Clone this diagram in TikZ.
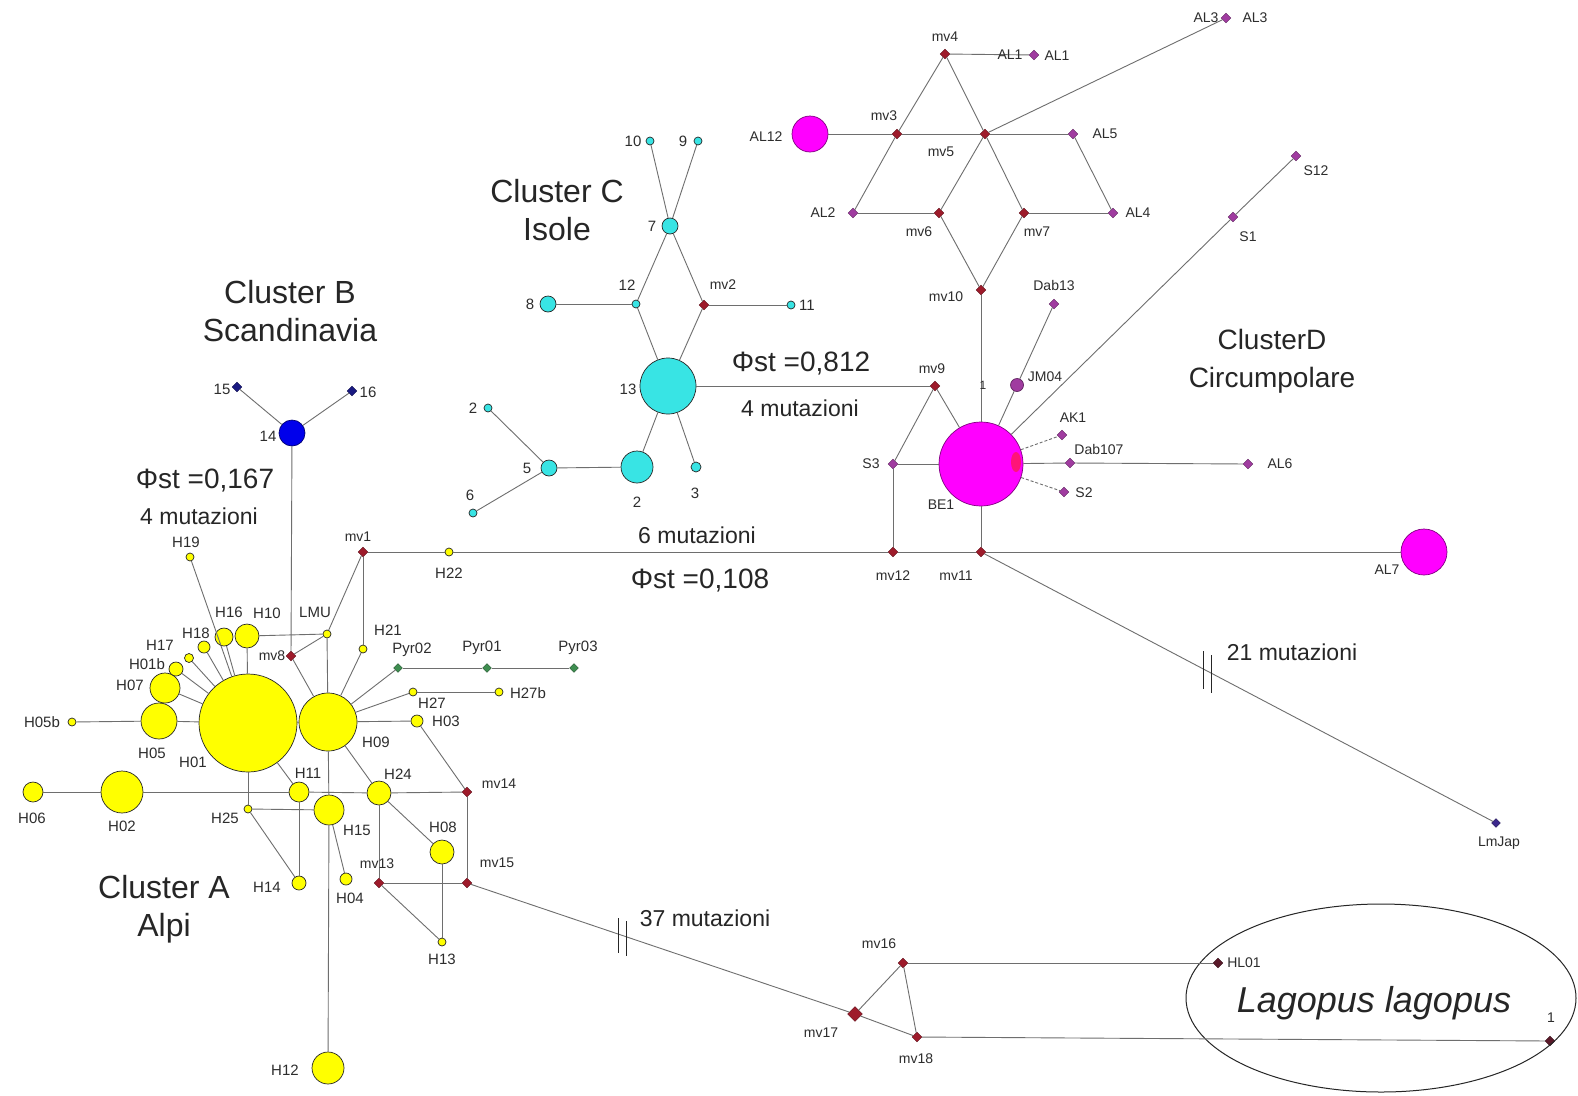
\documentclass[tikz,border=0pt]{standalone}
\usepackage{fontspec}
\setmainfont{Liberation Sans}
\usetikzlibrary{shapes.geometric,calc}
\newcommand{\fsz}[1]{\fontsize{#1}{#1}\selectfont}
\definecolor{hyel}{RGB}{255,255,0}
\definecolor{hcyan}{RGB}{56,228,228}
\definecolor{hmag}{RGB}{255,0,255}
\definecolor{hpink}{RGB}{255,20,120}
\definecolor{hpur}{RGB}{160,60,160}
\definecolor{mvred}{RGB}{158,27,43}
\definecolor{hblue}{RGB}{0,0,235}
\definecolor{hnavy}{RGB}{26,26,130}
\definecolor{hgreen}{RGB}{62,142,80}
\definecolor{hjap}{RGB}{60,40,140}
\definecolor{hbrown}{RGB}{90,26,42}
\definecolor{edgegray}{RGB}{110,110,110}
\definecolor{txt}{RGB}{45,45,45}
\tikzset{
  hap/.style={circle, inner sep=0pt, line width=0.7pt, draw=black!85},
  ynode/.style={hap, fill=hyel, minimum size=#1},
  cnode/.style={hap, fill=hcyan, minimum size=#1},
  mnode/.style={hap, fill=hmag, draw=hmag!50!black, minimum size=#1},
  dia/.style={diamond, inner sep=0pt, minimum size=10pt, line width=0.4pt},
  mvn/.style={dia, fill=mvred, draw=mvred!60!black},
  pnode/.style={dia, fill=hpur, draw=hpur!60!black},
  gnode/.style={dia, fill=hgreen, draw=hgreen!60!black, minimum size=9pt},
  nnode/.style={dia, fill=hnavy, draw=hnavy!60!black},
  bnode/.style={dia, fill=hbrown, draw=hbrown!60!black},
  edge/.style={draw=edgegray, line width=0.9pt},
  brk/.style={draw=black!85, line width=1.3pt},
  lbl/.style={font=\fsz{15}, text=txt, inner sep=0pt},
  lbd/.style={font=\fsz{14}, text=txt, inner sep=0pt},
  big/.style={font=\fontsize{32}{38}\selectfont, text=black!85, align=center, inner sep=0pt},
  phi/.style={font=\fsz{28}, text=black!85, inner sep=0pt},
  mut/.style={font=\fsz{23}, text=black!85, inner sep=0pt}
}
\begin{document}
\begin{tikzpicture}[x=1pt,y=-1pt]
\useasboundingbox (0,0) rectangle (1578,1095);
\fill[white] (0,0) rectangle (1578,1095);

% ---------- Cluster A ----------
\node[ynode=98] (H01) at (248,723) {};
\node[ynode=58] (H09) at (328,722) {};
\node[ynode=36] (H05) at (159,721) {};
\node[ynode=30] (H07) at (165,688) {};
\node[ynode=14] (H01b) at (176,669) {};
\node[ynode=9] (H17) at (189,658) {};
\node[ynode=12] (H18) at (204,647) {};
\node[ynode=18] (H16) at (224,637) {};
\node[ynode=24] (H10) at (247,636) {};
\node[ynode=8] (H19) at (190,557) {};
\node[ynode=8] (H05b) at (72,722) {};
\node[ynode=20] (H06) at (33,792) {};
\node[ynode=42] (H02) at (122,792) {};
\node[ynode=20] (H11) at (299,792) {};
\node[ynode=30] (H15) at (329,810) {};
\node[ynode=24] (H24) at (379,793) {};
\node[ynode=8] (H25) at (248,809) {};
\node[ynode=14] (H14) at (299,883) {};
\node[ynode=12] (H04) at (346,879) {};
\node[ynode=24] (H08) at (442,852) {};
\node[ynode=8] (H13) at (442,942) {};
\node[ynode=32] (H12) at (328,1068) {};
\node[ynode=12] (H03) at (417,721) {};
\node[ynode=8] (H27) at (413,692) {};
\node[ynode=8] (H27b) at (499,692) {};
\node[ynode=8] (H21) at (363,649) {};
\node[ynode=8] (H22) at (449,552) {};
\node[ynode=8] (LMU) at (327,634) {};
\node[gnode] (Pyr02) at (398,668) {};
\node[gnode] (Pyr01) at (487,668) {};
\node[gnode] (Pyr03) at (574,668) {};
\node[mvn] (mv1) at (363,552) {};
\node[mvn] (mv8) at (291,656) {};
\node[mvn] (mv13) at (379,883) {};
\node[mvn] (mv14) at (467,792) {};
\node[mvn] (mv15) at (467,883) {};

% ---------- Cluster B ----------
\node[hap, fill=hblue, draw=hblue!50!black, minimum size=26] (B14) at (292,433) {};
\node[nnode] (B15) at (237,387) {};
\node[nnode] (B16) at (352,391) {};

% ---------- Cluster C ----------
\node[cnode=8] (c10) at (650,141) {};
\node[cnode=8] (c9) at (698,141) {};
\node[cnode=16] (c7) at (670,226) {};
\node[cnode=8] (c12) at (636,304) {};
\node[mvn] (mv2) at (704,305) {};
\node[cnode=8] (c11) at (791,305) {};
\node[cnode=16] (c8) at (548,304) {};
\node[cnode=56] (c13) at (668,386) {};
\node[cnode=8] (c2a) at (488,408) {};
\node[cnode=16] (c5) at (549,468) {};
\node[cnode=32] (c2b) at (637,467) {};
\node[cnode=10] (c3) at (696,467) {};
\node[cnode=8] (c6) at (473,513) {};

% ---------- Cluster D ----------
\node[mvn] (mv4) at (945,54) {};
\node[pnode] (AL1) at (1034,55) {};
\node[pnode] (AL3) at (1226,18) {};
\node[mnode=36] (AL12) at (810,134) {};
\node[mvn] (mv3) at (897,134) {};
\node[mvn] (mv5) at (985,134) {};
\node[pnode] (AL5) at (1073,134) {};
\node[pnode] (AL2) at (853,213) {};
\node[mvn] (mv6) at (939,213) {};
\node[mvn] (mv7) at (1024,213) {};
\node[pnode] (AL4) at (1113,213) {};
\node[mvn] (mv10) at (981,290) {};
\node[pnode] (Dab13) at (1054,304) {};
\node[pnode] (S1) at (1233,217) {};
\node[pnode] (S12) at (1296,156) {};
\node[hap, fill=hpur, draw=hpur!60!black, minimum size=13] (JM04) at (1017,385) {};
\node[mvn] (mv9) at (935,386) {};
\node[pnode] (AK1) at (1062,435) {};
\node[pnode] (Dab107) at (1070,463) {};
\node[pnode] (AL6) at (1248,464) {};
\node[pnode] (S2) at (1064,492) {};
\node[mnode=84] (BE1) at (981,464) {};
\fill[hpink] (1016,462) ellipse (5 and 10);
\node[pnode] (S3) at (893,464) {};
\node[mvn] (mv12) at (893,552) {};
\node[mvn] (mv11) at (981,552) {};
\node[mnode=46] (AL7) at (1424,552) {};
\node[dia, fill=hjap, draw=hjap!60!black, minimum size=9pt] (LmJap) at (1496,823) {};

% ---------- Lagopus lagopus ----------
\node[mvn] (mv16) at (903,963) {};
\node[mvn, minimum size=15pt] (mv17) at (855,1014) {};
\node[mvn] (mv18) at (917,1037) {};
\node[bnode] (HL01) at (1218,963) {};
\node[bnode] (L1) at (1550,1041) {};
\node[draw=black!85, line width=1pt, ellipse, minimum width=390, minimum height=188] (ell) at (1381,998) {};

% ---------- edges ----------
\foreach \a/\b in {H01/H05, H05/H05b, H01/H07, H01/H01b, H01/H17, H01/H18, H01/H16, H01/H19,
  H01/H10, H10/LMU, H01/H09, H01/H25, H01/H11, H25/H15, H25/H14, H11/H14, H06/H02, H02/H11,
  H11/H24, H24/mv14, H09/H15, H15/H12, H15/H04, H09/H24, H24/mv13, H24/H08, H08/H13, mv13/H13,
  mv13/mv15, mv14/mv15, H03/mv14, H09/H03, H09/H27, H27/H27b, H09/Pyr02, Pyr02/Pyr01, Pyr01/Pyr03,
  H09/H21, H21/mv1, H09/LMU, LMU/mv1, LMU/mv8, mv8/H09, mv8/B14, B14/B15, B14/B16,
  mv1/H22, H22/mv12,
  c10/c7, c9/c7, c7/c12, c7/mv2, c12/c8, c12/c13, mv2/c13, mv2/c11, c13/c2b, c13/c3, c2b/c5,
  c5/c2a, c5/c6, c13/mv9,
  mv4/AL1, mv4/mv3, mv4/mv5, AL12/mv3, mv3/mv5, mv5/AL5, mv5/AL3, mv3/AL2, mv5/mv7, mv5/mv6,
  AL2/mv6, AL5/AL4, mv7/AL4, mv6/mv10, mv7/mv10, mv10/BE1, BE1/mv9, mv9/S3, S3/BE1, S3/mv12,
  BE1/mv11, mv12/mv11, mv11/AL7, mv11/LmJap, BE1/JM04, JM04/Dab13, BE1/S1, S1/S12,
  BE1/Dab107, Dab107/AL6,
  mv15/mv17, mv17/mv16, mv17/mv18, mv16/mv18, mv16/HL01, mv18/L1}
  \draw[edge] (\a) -- (\b);
\draw[edge, densely dashed] (BE1) -- (AK1);
\draw[edge, densely dashed] (BE1) -- (S2);

% break marks
\coordinate (bk1) at ($(mv15)!0.40!(mv17)$);
\draw[brk] ($(bk1)+(-4,-17)$) -- ($(bk1)+(-4,18)$);
\draw[brk] ($(bk1)+(4,-14)$) -- ($(bk1)+(4,21)$);
\coordinate (bk2) at ($(mv11)!0.44!(LmJap)$);
\draw[brk] ($(bk2)+(-4,-20)$) -- ($(bk2)+(-4,18)$);
\draw[brk] ($(bk2)+(4,-16)$) -- ($(bk2)+(4,22)$);

% ---------- labels cluster A ----------
\node[lbl] (tH19) at (186,542) {H19};
\node[lbl] (tH16) at (229,612) {H16};
\node[lbl] (tH10) at (267,613) {H10};
\node[lbl] (tH18) at (196,633) {H18};
\node[lbl] (tH17) at (160,645) {H17};
\node[lbl] (tH01b) at (147,664) {H01b};
\node[lbl] (tH07) at (130,685) {H07};
\node[lbl] (tH05) at (152,753) {H05};
\node[lbl] (tH05b) at (42,722) {H05b};
\node[lbl] (tH01) at (193,762) {H01};
\node[lbd] (tmv8) at (272,656) {mv8};
\node[lbl] (tLMU) at (315,612) {LMU};
\node[lbd] (tmv1) at (358,537) {mv1};
\node[lbl] (tH22) at (449,573) {H22};
\node[lbl] (tH21) at (388,630) {H21};
\node[lbl] (tPyr02) at (412,650) {Pyr02};
\node[lbl] (tPyr01) at (482,648) {Pyr01};
\node[lbl] (tPyr03) at (578,648) {Pyr03};
\node[lbl] (tH27) at (432,703) {H27};
\node[lbl] (tH27b) at (528,693) {H27b};
\node[lbl] (tH03) at (446,721) {H03};
\node[lbl] (tH09) at (376,742) {H09};
\node[lbl] (tH11) at (308,773) {H11};
\node[lbl] (tH24) at (398,774) {H24};
\node[lbl] (tH25) at (225,818) {H25};
\node[lbl] (tH15) at (357,830) {H15};
\node[lbl] (tH06) at (32,818) {H06};
\node[lbl] (tH02) at (122,826) {H02};
\node[lbl] (tH14) at (267,887) {H14};
\node[lbl] (tH04) at (350,898) {H04};
\node[lbd] (tmv13) at (377,864) {mv13};
\node[lbl] (tH08) at (443,827) {H08};
\node[lbd] (tmv14) at (499,784) {mv14};
\node[lbd] (tmv15) at (497,863) {mv15};
\node[lbl] (tH13) at (442,959) {H13};
\node[lbl] (tH12) at (285,1070) {H12};

% ---------- labels cluster B ----------
\node[lbl] (t15) at (222,389) {15};
\node[lbl] (t16) at (368,392) {16};
\node[lbl] (t14) at (268,436) {14};

% ---------- labels cluster C ----------
\node[lbl] (t10) at (633,141) {10};
\node[lbl] (t9) at (683,141) {9};
\node[lbl] (t7) at (652,226) {7};
\node[lbl] (t12) at (627,285) {12};
\node[lbd] (tmv2) at (723,285) {mv2};
\node[lbl] (t11) at (807,305) {11};
\node[lbl] (t8) at (530,304) {8};
\node[lbl] (t13) at (628,389) {13};
\node[lbl] (t2a) at (473,408) {2};
\node[lbl] (t5) at (527,468) {5};
\node[lbl] (t2b) at (637,502) {2};
\node[lbl] (t3) at (695,493) {3};
\node[lbl] (t6) at (470,495) {6};

% ---------- labels cluster D ----------
\node[lbd] (tmv4) at (945,37) {mv4};
\node[lbd] (tAL1a) at (1010,55) {AL1};
\node[lbd] (tAL1b) at (1057,56) {AL1};
\node[lbd] (tAL3a) at (1206,18) {AL3};
\node[lbd] (tAL3b) at (1255,18) {AL3};
\node[lbd] (tAL12) at (766,137) {AL12};
\node[lbd] (tmv3) at (884,116) {mv3};
\node[lbd] (tmv5) at (941,152) {mv5};
\node[lbd] (tAL5) at (1105,134) {AL5};
\node[lbd] (tAL2) at (823,213) {AL2};
\node[lbd] (tmv6) at (919,232) {mv6};
\node[lbd] (tmv7) at (1037,232) {mv7};
\node[lbd] (tAL4) at (1138,213) {AL4};
\node[lbd] (tmv10) at (946,297) {mv10};
\node[lbd] (tDab13) at (1054,285) {Dab13};
\node[lbd] (tS1) at (1248,237) {S1};
\node[lbd] (tS12) at (1316,171) {S12};
\node[lbd] (tJM04) at (1045,377) {JM04};
\node[lbd] (tmv9) at (932,369) {mv9};
\node[lbd] (tAK1) at (1073,418) {AK1};
\node[lbd] (tDab107) at (1099,449) {Dab107};
\node[lbd] (tAL6) at (1280,464) {AL6};
\node[lbd] (tS2) at (1084,493) {S2};
\node[lbd] (tBE1) at (941,505) {BE1};
\node[lbd] (tS3) at (871,464) {S3};
\node[lbd] (tmv12) at (893,576) {mv12};
\node[lbd] (tmv11) at (956,576) {mv11};
\node[lbd] (tAL7) at (1387,570) {AL7};
\node[lbd] (tLmJap) at (1499,843) {LmJap};
\node[font=\fsz{12}, text=txt, inner sep=0pt] (tone) at (983,385) {1};

% ---------- labels Lagopus ----------
\node[lbd] (tmv16) at (879,944) {mv16};
\node[lbd] (tmv17) at (821,1033) {mv17};
\node[lbd] (tmv18) at (916,1059) {mv18};
\node[lbd] (tHL01) at (1244,963) {HL01};
\node[lbd] (tL1) at (1551,1018) {1};
\node[font=\fsz{36}\itshape, text=black!85, inner sep=0pt] (tLag) at (1374,1003) {Lagopus lagopus};

% ---------- big labels ----------
\node[big] (tCA) at (164,909) {Cluster A\\Alpi};
\node[big] (tCB) at (290,311) {Cluster B\\Scandinavia};
\node[big] (tCC) at (557,210) {Cluster C\\Isole};
\node[big, font=\fontsize{28}{38}\selectfont] (tCD) at (1272,361) {ClusterD\\Circumpolare};
\node[phi] (tphiB) at (205,481) {Φst =0,167};
\node[mut] (tmutB) at (199,516) {4 mutazioni};
\node[phi] (tphiC) at (801,364) {Φst =0,812};
\node[mut] (tmutC) at (800,408) {4 mutazioni};
\node[mut] (tmut6) at (697,535) {6 mutazioni};
\node[phi] (tphiA) at (700,581) {Φst =0,108};
\node[mut] (tmut21) at (1292,652) {21 mutazioni};
\node[mut] (tmut37) at (705,918) {37 mutazioni};
\end{tikzpicture}
\end{document}
